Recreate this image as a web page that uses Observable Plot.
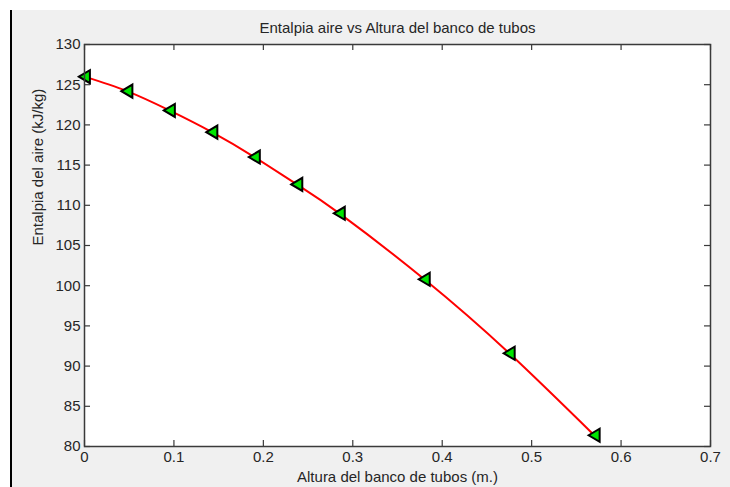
<!DOCTYPE html>
<html>
<head>
<meta charset="utf-8">
<script src="https://cdn.jsdelivr.net/npm/d3@7"></script>
<script src="https://cdn.jsdelivr.net/npm/@observablehq/plot@0.6"></script>
<style>
  html, body { margin: 0; padding: 0; background: #ffffff; }
  #wrap {
    position: absolute; left: 10px; top: 10px;
    width: 718px; height: 477px;
    border-left: 2px solid #000;
    background: #f0f0f0;
  }
  #wrap svg { display: block; }
</style>
</head>
<body>
<div id="wrap"></div>
<script>
// Data
const altura = [0, 0.0475, 0.095, 0.1425, 0.19, 0.2375, 0.285, 0.38, 0.475, 0.57];
const entalpia = [126.0, 124.2, 121.8, 119.1, 116.0, 112.6, 109.0, 100.8, 91.6, 81.4];

const xTicks = [0, 0.1, 0.2, 0.3, 0.4, 0.5, 0.6, 0.7];
const xTickLabels = ["0", "0.1", "0.2", "0.3", "0.4", "0.5", "0.6", "0.7"];
const yTicks = [80, 85, 90, 95, 100, 105, 110, 115, 120, 125, 130];
const yTickLabels = ["80", "85", "90", "95", "100", "105", "110", "115", "120", "125", "130"];

const titleText = "Entalpia aire vs Altura del banco de tubos";
const xLabelText = "Altura del banco de tubos (m.)";
const yLabelText = "Entalpia del aire (kJ/kg)";

const data = altura.map((x, i) => ({x, y: entalpia[i]}));

const W = 718, H = 477;
const mL = 72, mT = 34, mR = 20, mB = 41;
const fw = W - mL - mR, fh = H - mT - mB;
const tick = 6;
const ink = "#262626";
const frameColor = "#3a3a3a";
const fs = 15;

// left-pointing triangle marker
const triLeft = {
  draw(context, size) {
    const k = Math.sqrt(size / Math.PI);
    context.moveTo(-1.25 * k, 0);
    context.lineTo(1.2 * k, -1.45 * k);
    context.lineTo(1.2 * k, 1.45 * k);
    context.closePath();
  }
};

const chart = Plot.plot({
  width: W,
  height: H,
  marginLeft: mL,
  marginTop: mT,
  marginRight: mR,
  marginBottom: mB,
  style: {fontFamily: "'Liberation Sans', Arial, sans-serif", fontSize: fs + "px", background: "transparent", color: ink, overflow: "visible"},
  x: {domain: [0, 0.7], label: null},
  y: {domain: [80, 130], label: null},
  marks: [
    Plot.frame({fill: "#ffffff", stroke: null}),
    Plot.axisX({ticks: xTicks, tickSize: 0, tickPadding: 5, tickFormat: (d, i) => xTickLabels[i], fill: ink, label: null}),
    Plot.axisY({ticks: yTicks, tickSize: 0, tickPadding: 4, tickFormat: (d, i) => yTickLabels[i], fill: ink, label: null}),
    // inward ticks on all four sides
    Plot.tickX(xTicks, {x: d => d, insetTop: fh - tick, stroke: frameColor, strokeWidth: 1.2}),
    Plot.tickX(xTicks, {x: d => d, insetBottom: fh - tick, stroke: frameColor, strokeWidth: 1.2}),
    Plot.tickY(yTicks, {y: d => d, insetRight: fw - tick, stroke: frameColor, strokeWidth: 1.2}),
    Plot.tickY(yTicks, {y: d => d, insetLeft: fw - tick, stroke: frameColor, strokeWidth: 1.2}),
    Plot.line(data, {x: "x", y: "y", stroke: "#ff0000", strokeWidth: 2, curve: "natural"}),
    Plot.dot(data, {x: "x", y: "y", symbol: triLeft, r: 4.5, fill: "#00e600", stroke: "#000", strokeWidth: 2}),
    Plot.frame({stroke: frameColor, strokeWidth: 1.5}),
    Plot.text([titleText], {text: d => d, frameAnchor: "top", dy: -16, lineAnchor: "middle", fill: ink, fontSize: fs}),
    Plot.text([xLabelText], {text: d => d, frameAnchor: "bottom", dy: 31, lineAnchor: "middle", fill: ink, fontSize: fs}),
    Plot.text([yLabelText], {text: d => d, frameAnchor: "left", dx: -46, rotate: -90, lineAnchor: "middle", fill: ink, fontSize: fs})
  ]
});
document.getElementById("wrap").appendChild(chart);
</script>
</body>
</html>
